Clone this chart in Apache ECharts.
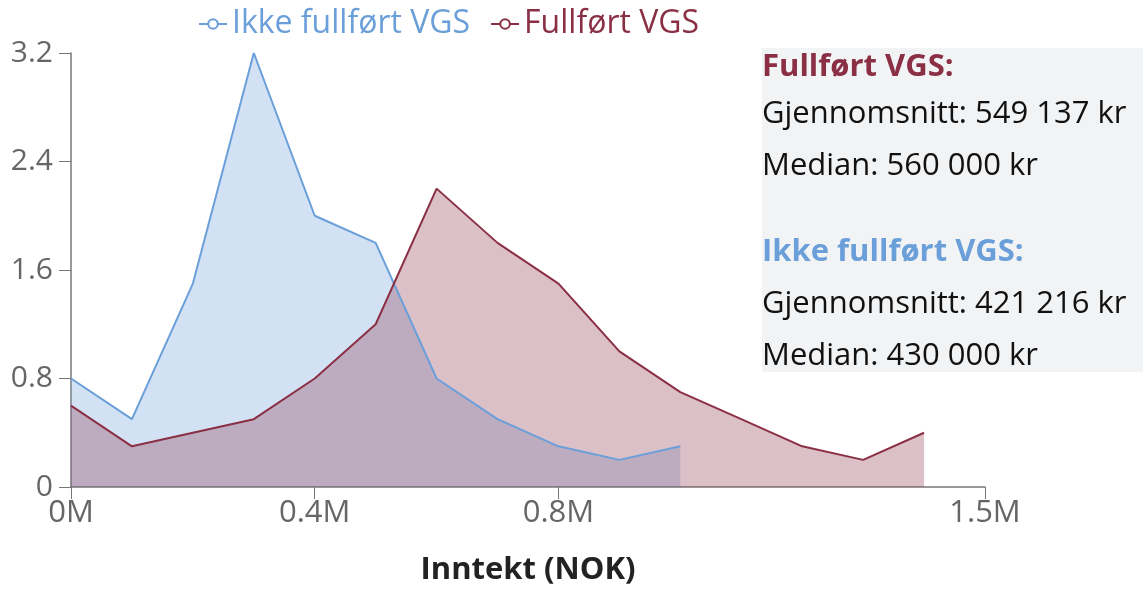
<!DOCTYPE html>
<html lang="no">
<head>
<meta charset="utf-8">
<title>Inntekt</title>
<script src="https://cdn.jsdelivr.net/npm/echarts@6/dist/echarts.min.js"></script>
<style>
  html, body { margin: 0; padding: 0; background: #fff; }
  #chart { width: 1143px; height: 591px; }
</style>
</head>
<body>
<div id="chart"></div>
<script>
// inntekt i NOK
var incomeIkke = [0, 100000, 200000, 300000, 400000, 500000, 600000, 700000, 800000, 900000, 1000000];
var ikkeFullfort = [0.8, 0.5, 1.5, 3.2, 2.0, 1.8, 0.8, 0.5, 0.3, 0.2, 0.3];
var incomeFull = [0, 100000, 200000, 300000, 400000, 500000, 600000, 700000, 800000, 900000, 1000000, 1100000, 1200000, 1300000, 1400000];
var fullfort = [0.6, 0.3, 0.4, 0.5, 0.8, 1.2, 2.2, 1.8, 1.5, 1.0, 0.7, 0.5, 0.3, 0.2, 0.4];
var xTicks = [0, 400000, 800000, 1500000];

var blue = '#6a9fd9';
var red = '#8b2f45';
var font = '"Open Sans", "Noto Sans", sans-serif';

function pairs(xs, ys) {
  return xs.map(function (x, i) { return [x, ys[i]]; });
}

// tekstlinjer i boksen til høyre
function infoText(txt, y, color, bold) {
  return {
    type: 'text',
    x: 762, y: y,
    z: 11,
    style: {
      text: txt,
      fill: color,
      fontSize: 31,
      fontWeight: bold ? 'bold' : 'normal',
      fontFamily: font,
      verticalAlign: 'middle'
    }
  };
}

var chart = echarts.init(document.getElementById('chart'));
chart.setOption({
  animation: false,
  textStyle: { fontFamily: font },
  legend: {
    left: 193,
    top: 3,
    itemWidth: 28,
    itemHeight: 12,
    itemGap: 20,
    textStyle: { fontSize: 32, fontFamily: font },
    data: [
      { name: 'Ikke fullført VGS', textStyle: { color: blue } },
      { name: 'Fullført VGS', textStyle: { color: red } }
    ]
  },
  grid: { left: 71, right: 158, top: 53, bottom: 103 },
  xAxis: {
    type: 'value',
    min: 0,
    max: 1500000,
    name: 'Inntekt (NOK)',
    nameLocation: 'middle',
    nameGap: 68,
    nameTextStyle: { fontSize: 31, fontWeight: 'bold', color: '#222', fontFamily: font },
    splitLine: { show: false },
    axisLine: { lineStyle: { color: '#777', width: 1.5 } },
    axisTick: { show: true, length: 12, customValues: xTicks, lineStyle: { color: '#777' } },
    axisLabel: {
      customValues: xTicks,
      fontSize: 31,
      color: '#666',
      margin: 11,
      formatter: function (v) { return (v / 1000000) + 'M'; }
    }
  },
  yAxis: {
    type: 'value',
    min: 0,
    max: 3.2,
    interval: 0.8,
    splitLine: { show: false },
    axisLine: { show: true, lineStyle: { color: '#777', width: 1.5 } },
    axisTick: { show: true, length: 12, lineStyle: { color: '#777' } },
    axisLabel: { fontSize: 30, color: '#666', margin: 18 }
  },
  series: [
    {
      name: 'Ikke fullført VGS',
      type: 'line',
      data: pairs(incomeIkke, ikkeFullfort),
      symbol: 'emptyCircle',
      showSymbol: false,
      symbolSize: 8,
      lineStyle: { color: blue, width: 2 },
      itemStyle: { color: blue },
      areaStyle: { color: blue, opacity: 0.3 }
    },
    {
      name: 'Fullført VGS',
      type: 'line',
      data: pairs(incomeFull, fullfort),
      symbol: 'emptyCircle',
      showSymbol: false,
      symbolSize: 8,
      lineStyle: { color: red, width: 2 },
      itemStyle: { color: red },
      areaStyle: { color: red, opacity: 0.3 }
    }
  ],
  graphic: [
    {
      type: 'rect',
      x: 762, y: 48,
      shape: { width: 381, height: 324 },
      style: { fill: '#f2f3f5' },
      z: 10
    },
    infoText('Fullført VGS:', 67, red, true),
    infoText('Gjennomsnitt: 549 137 kr', 114, '#111', false),
    infoText('Median: 560 000 kr', 166, '#111', false),
    infoText('Ikke fullført VGS:', 252, blue, true),
    infoText('Gjennomsnitt: 421 216 kr', 304, '#111', false),
    infoText('Median: 430 000 kr', 356, '#111', false)
  ]
});
</script>
</body>
</html>
